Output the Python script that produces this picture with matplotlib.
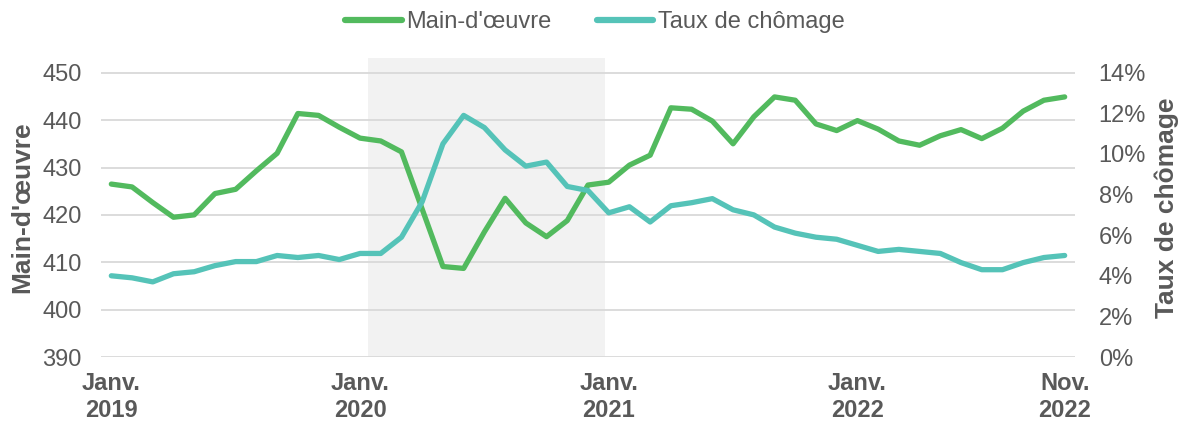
import matplotlib
matplotlib.use("Agg")
import matplotlib.pyplot as plt
import numpy as np
from matplotlib.ticker import FuncFormatter

plt.rcParams['font.family'] = ['Liberation Sans', 'DejaVu Sans']

# monthly values, Jan 2019 .. Nov 2022
labour = [426.5, 425.9, 422.6, 419.5, 420.0, 424.5, 425.4, 429.3, 433.0, 441.4,
          441.0, 438.5, 436.2, 435.6, 433.3, 421.2, 409.1, 408.7, 416.4, 423.5,
          418.3, 415.4, 418.8, 426.3, 426.9, 430.5, 432.6, 442.6, 442.3, 439.8,
          435.0, 440.7, 444.9, 444.2, 439.2, 437.8, 439.9, 438.1, 435.6, 434.7,
          436.7, 438.0, 436.1, 438.3, 441.9, 444.2, 444.9]
unemp = [4.0, 3.9, 3.7, 4.1, 4.2, 4.5, 4.7, 4.7, 5.0, 4.9,
         5.0, 4.8, 5.1, 5.1, 5.9, 7.65, 10.5, 11.9, 11.3, 10.2,
         9.4, 9.6, 8.4, 8.2, 7.1, 7.4, 6.65, 7.45, 7.6, 7.8,
         7.25, 7.0, 6.4, 6.1, 5.9, 5.8, 5.5, 5.2, 5.3, 5.2,
         5.1, 4.65, 4.3, 4.3, 4.65, 4.9, 5.0]
tick_pos = [0, 12, 24, 36, 46]
tick_labels = ["Janv.\n2019", "Janv.\n2020", "Janv.\n2021", "Janv.\n2022", "Nov.\n2022"]
shade = (12.4, 23.8)  # recession shading, in month index

GREEN = "#52BA5E"
TEAL = "#55C3B8"
GREY = "#595959"

x = np.arange(len(labour))

fig = plt.figure(figsize=(11.85, 4.24), dpi=100)
ax = fig.add_axes([0.0852, 0.158, 0.822, 0.7045])
ax2 = ax.twinx()

ax.axvspan(shade[0], shade[1], color="#F2F2F2", zorder=0, lw=0)
for v in range(390, 451, 10):
    ax.axhline(v, color="#D9D9D9", lw=1.3, zorder=1)

ax.plot(x, labour, color=GREEN, lw=3.8, solid_capstyle="round", zorder=3)
ax2.plot(x, unemp, color=TEAL, lw=3.8, solid_capstyle="round", zorder=3)

ax.set_xlim(-0.5, 46.5)
ax.set_ylim(390, 453.05)
ax2.set_ylim(0, 14 * 63.05 / 60)
ax.set_yticks(range(390, 451, 10))
ax2.set_yticks(range(0, 15, 2))
ax2.yaxis.set_major_formatter(FuncFormatter(lambda v, p: "%d%%" % v))
ax.set_xticks(tick_pos)
ax.set_xticklabels(tick_labels, fontweight="bold", linespacing=1.2)

for a in (ax, ax2):
    for s in a.spines.values():
        s.set_visible(False)
    a.tick_params(length=0, labelsize=17, labelcolor=GREY)
ax.tick_params(axis="y", pad=14)
ax2.tick_params(axis="y", pad=17)
ax.tick_params(axis="x", pad=11)

ax.set_ylabel("Main-d'œuvre", fontsize=19, fontweight="bold", color=GREY, labelpad=6)
ax2.set_ylabel("Taux de chômage", fontsize=19, fontweight="bold", color=GREY, labelpad=6)

h1 = plt.Line2D([], [], color=GREEN, lw=4.5, solid_capstyle="round")
h2 = plt.Line2D([], [], color=TEAL, lw=4.5, solid_capstyle="round")
leg = fig.legend([h1, h2], ["Main-d'œuvre", "Taux de chômage"], loc="center",
                 bbox_to_anchor=(0.502, 0.948), ncol=2, frameon=False, fontsize=17,
                 handlelength=2.4, handletextpad=0.2, columnspacing=1.9)
for t in leg.get_texts():
    t.set_color(GREY)

fig.savefig("out.png", dpi=100)
